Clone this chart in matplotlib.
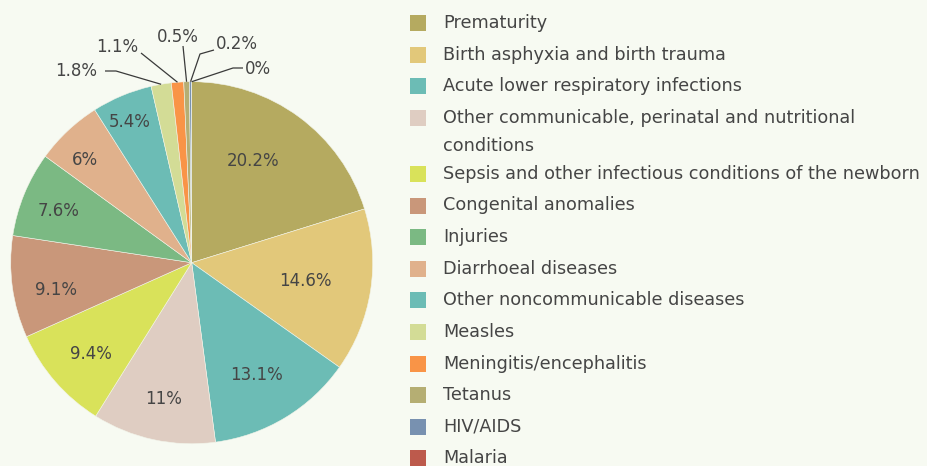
import matplotlib
matplotlib.use("Agg")
import matplotlib.pyplot as plt
import numpy as np
from matplotlib.patches import Rectangle

categories = [
    "Prematurity",
    "Birth asphyxia and birth trauma",
    "Acute lower respiratory infections",
    "Other communicable, perinatal and nutritional\nconditions",
    "Sepsis and other infectious conditions of the newborn",
    "Congenital anomalies",
    "Injuries",
    "Diarrhoeal diseases",
    "Other noncommunicable diseases",
    "Measles",
    "Meningitis/encephalitis",
    "Tetanus",
    "HIV/AIDS",
    "Malaria",
]
values = [20.2, 14.6, 13.1, 11, 9.4, 9.1, 7.6, 6, 5.4, 1.8, 1.1, 0.5, 0.2, 0]
value_labels = ["20.2%", "14.6%", "13.1%", "11%", "9.4%", "9.1%", "7.6%", "6%",
                "5.4%", "1.8%", "1.1%", "0.5%", "0.2%", "0%"]
colors = ["#b5aa60", "#e2c87a", "#6cbcb5", "#dfcdc2", "#d9e25a", "#c9977a",
          "#7bb983", "#e0b18c", "#6cbcb5", "#d3dc96", "#f99447", "#b5ae73",
          "#7891b0", "#bd5a4c"]

BG = "#f7faf2"
TXT = "#454545"
W, H = 927, 466
fig = plt.figure(figsize=(W / 100, H / 100), dpi=100, facecolor=BG)

# pie axes: center (191.7, 262.7) px, radius 181 px
cx, cy, R = 191.7, 262.7, 181.0
ax = fig.add_axes([(cx - R) / W, (H - cy - R) / H, 2 * R / W, 2 * R / H])
ax.set_facecolor(BG)

wedges, _ = ax.pie(values, colors=colors, startangle=90, counterclock=False,
                   radius=1.0, wedgeprops=dict(linewidth=0.4, edgecolor="#f2f4ea"))
ax.set_xlim(-1, 1)
ax.set_ylim(-1, 1)
ax.set_aspect("equal")
ax.axis("off")

FS_PCT = 12
FS_LEG = 12.7
cum = np.concatenate([[0], np.cumsum(values)])
mid_deg = 90 - 360 * (cum[:-1] + np.array(values) / 2) / 100.0

# inside labels (first nine slices): radial distance and small angular tweak
inner_r = [0.655, 0.635, 0.718, 0.768, 0.751, 0.762, 0.787, 0.818, 0.851]
inner_dang = [5.4, 0, -1, 0.7, 1, 3.5, 1, 3, 1]
for i in range(9):
    a = np.deg2rad(mid_deg[i] + inner_dang[i])
    ax.text(inner_r[i] * np.cos(a), inner_r[i] * np.sin(a), value_labels[i],
            ha="center", va="center", fontsize=FS_PCT, color=TXT)

# outside labels with leader lines (small slices)
def px2d(x, y):
    return ((x - cx) / R, (cy - y) / R)

outside = {
    9: dict(text=(97, 71), ha="right", path=[(105, 71), (116, 71)]),
    10: dict(text=(138, 47), ha="right", path=[(141, 53)]),
    11: dict(text=(178, 37), ha="center", path=[(183, 46)]),
    12: dict(text=(216, 44), ha="left", path=[(214, 50), (200, 54)]),
    13: dict(text=(245, 69), ha="left", path=[(243, 68), (233, 68)]),
}
for i, spec in outside.items():
    a = np.deg2rad(mid_deg[i])
    edge = (np.cos(a), np.sin(a))
    pts = [px2d(*p) for p in spec["path"]] + [edge]
    xs, ys = zip(*pts)
    ax.plot(xs, ys, color="#3a3a3a", lw=0.9, clip_on=False, solid_capstyle="butt")
    tx, ty = px2d(*spec["text"])
    ax.text(tx, ty, value_labels[i], ha=spec["ha"], va="center", fontsize=FS_PCT,
            color=TXT, clip_on=False)

# legend drawn in figure pixels
sq_x0, sq_w, sq_h = 410, 15.5, 16
txt_x = 443
step = 31.6
y = 23.0
for lab, col in zip(categories, colors):
    fig.add_artist(Rectangle((sq_x0 / W, (H - y - sq_h / 2) / H), sq_w / W, sq_h / H,
                             transform=fig.transFigure, facecolor=col, edgecolor="none"))
    lines = lab.split("\n")
    for k, line in enumerate(lines):
        fig.text(txt_x / W, (H - y - 28 * k) / H, line, ha="left", va="center",
                 fontsize=FS_LEG, color=TXT)
    y += step + 24.5 * (len(lines) - 1)

fig.savefig("out.png", dpi=100, facecolor=BG)
